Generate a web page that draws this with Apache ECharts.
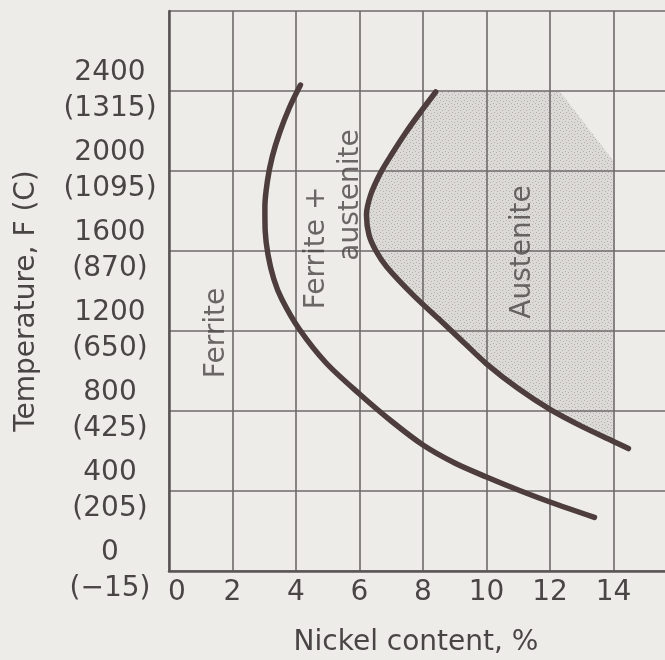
<!DOCTYPE html>
<html>
<head>
<meta charset="utf-8">
<title>Ferrite / austenite fields vs nickel content</title>
<script src="https://cdn.jsdelivr.net/npm/echarts@6/dist/echarts.min.js"></script>
<style>
  html, body { margin: 0; padding: 0; background: #edece8; }
  #chart { width: 665px; height: 660px; }
</style>
</head>
<body>
<div id="chart"></div>
<script>
var nickelMax = 16
var tempF = [0, 400, 800, 1200, 1600, 2000, 2400]
var tempC = ['\u221215', '205', '425', '650', '870', '1095', '1315']

// boundary curves, [nickel %, temperature F]
var ferriteLine = [
  [4.14, 2430], [3.8, 2320], [3.48, 2190], [3.25, 2070], [3.1, 1950],
  [3.02, 1820], [3.03, 1700], [3.12, 1580], [3.3, 1460], [3.55, 1360],
  [4.1, 1210], [4.95, 1040], [6.0, 885], [7.0, 750], [8.0, 630],
  [9.0, 540], [10.0, 470], [11.0, 405], [12.0, 345], [13.4, 268]
]
var austeniteLine = [
  [8.4, 2395], [7.9, 2290], [7.45, 2190], [7.0, 2080], [6.66, 1990],
  [6.35, 1880], [6.22, 1780], [6.3, 1680], [6.52, 1600], [6.86, 1520],
  [7.7, 1378], [8.55, 1252], [9.3, 1140], [10.0, 1036], [11.0, 912],
  [12.0, 808], [13.0, 723], [14.0, 648], [14.47, 612]
]
// closes the shaded austenite field along the 14 % and 2400 F lines
var shadeCorner = [[14, 2050], [12.3, 2400]]

var regionLabels = [
  { name: 'Ferrite', value: [1.5, 1190] },
  { name: 'Ferrite +', value: [4.66, 1615] },
  { name: 'austenite', value: [5.73, 1880] },
  { name: 'Austenite', value: [11.15, 1595] }
]

var textColor = '#4a4545'
var curveColor = '#4e3d3d'
var font = 'DejaVu Sans'

function stipple() {
  var c = document.createElement('canvas')
  c.width = 6
  c.height = 6
  var ctx = c.getContext('2d')
  ctx.fillStyle = 'rgba(195,193,187,0.4)'
  ctx.fillRect(0, 0, 6, 6)
  ctx.fillStyle = 'rgba(140,136,132,0.5)'
  ctx.fillRect(1, 1, 1, 1)
  ctx.fillRect(4, 2, 1, 1)
  ctx.fillRect(2, 4, 1, 1)
  ctx.fillRect(5, 5, 1, 1)
  return c
}
var shadeFill = { image: stipple(), repeat: 'repeat' }
var shadePoints = austeniteLine.filter(function (p) { return p[0] <= 14 }).concat(shadeCorner)

var chart = echarts.init(document.getElementById('chart'))
chart.setOption({
  backgroundColor: '#edece8',
  animation: false,
  textStyle: { fontFamily: font, color: textColor },
  grid: {
    left: 169,
    top: 11,
    bottom: 89,
    right: -12,
    containLabel: false,
    outerBoundsMode: 'none'
  },
  xAxis: {
    type: 'value',
    min: 0,
    max: nickelMax,
    interval: 2,
    z: 3,
    name: 'Nickel content, %',
    nameLocation: 'middle',
    nameGap: 58,
    nameTextStyle: { fontSize: 28, fontFamily: font, color: textColor, padding: [0, 14, 0, 0] },
    axisLine: { lineStyle: { color: '#5a5555', width: 2.5 } },
    axisTick: { show: false },
    splitLine: { lineStyle: { color: '#6f6a6a', width: 1.6 } },
    axisLabel: {
      margin: 8,
      fontSize: 28,
      fontFamily: font,
      color: textColor,
      formatter: function (v) {
        if (v > 14) return ''
        if (v === 0) return '{z|0}'
        return String(v)
      },
      rich: {
        z: { fontSize: 28, fontFamily: font, color: textColor, padding: [0, 0, 0, 16] }
      }
    }
  },
  yAxis: {
    type: 'value',
    min: 0,
    max: 2800,
    interval: 400,
    z: 3,
    name: 'Temperature, F (C)',
    nameLocation: 'middle',
    nameGap: 128,
    nameTextStyle: { fontSize: 28, fontFamily: font, color: textColor, padding: [0, 20, 0, 0] },
    axisLine: { lineStyle: { color: '#5a5555', width: 2.5 } },
    axisTick: { show: false },
    splitLine: { lineStyle: { color: '#6f6a6a', width: 1.6 } },
    axisLabel: {
      margin: 59,
      align: 'center',
      lineHeight: 36,
      padding: [0, 0, 4, 0],
      fontSize: 28,
      fontFamily: font,
      color: textColor,
      formatter: function (v) {
        var i = tempF.indexOf(v)
        return i < 0 ? '' : v + '\n(' + tempC[i] + ')'
      }
    }
  },
  series: [
    {
      type: 'custom',
      silent: true,
      z: 1,
      data: [0],
      renderItem: function (params, api) {
        return {
          type: 'polygon',
          shape: { points: shadePoints.map(function (p) { return api.coord(p) }) },
          style: { fill: shadeFill }
        }
      }
    },
    {
      type: 'line',
      data: ferriteLine,
      smooth: 0.3,
      symbol: 'none',
      z: 5,
      lineStyle: { color: curveColor, width: 5.5, cap: 'round' }
    },
    {
      type: 'line',
      data: austeniteLine,
      smooth: 0.3,
      symbol: 'none',
      z: 5,
      lineStyle: { color: curveColor, width: 5.5, cap: 'round' }
    },
    {
      type: 'scatter',
      data: regionLabels,
      symbolSize: 0,
      z: 6,
      silent: true,
      label: {
        show: true,
        position: 'inside',
        rotate: 90,
        fontSize: 28,
        fontFamily: font,
        color: textColor,
        formatter: '{b}'
      }
    }
  ]
})
</script>
</body>
</html>
